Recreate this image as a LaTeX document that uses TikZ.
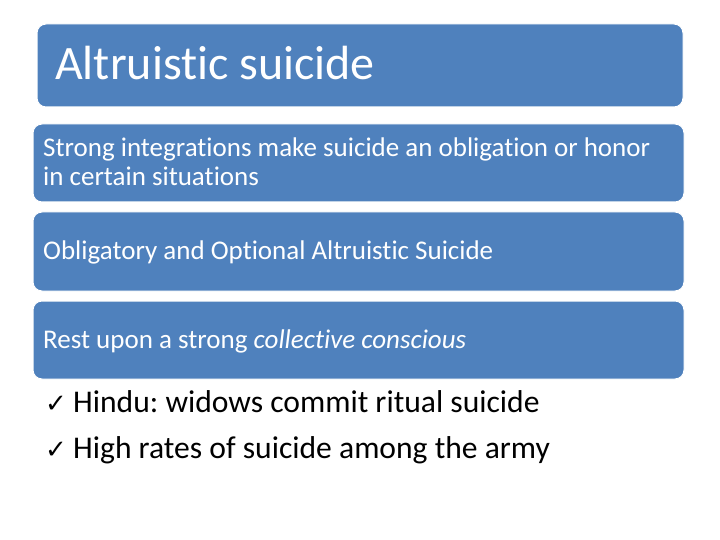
\documentclass[tikz,border=0pt]{standalone}
\usepackage{fontspec}
\setmainfont[Ligatures={NoCommon}]{Carlito}
\newfontfamily\symf{DejaVu Sans}
\definecolor{boxblue}{HTML}{4F81BD}
\frenchspacing
\begin{document}
\begin{tikzpicture}[x=1pt,y=-1pt,
  bbox/.style={fill=boxblue,draw=white,line width=1pt,rounded corners=9pt},
  wtext/.style={anchor=base west,inner sep=0,text=white,font=\fontsize{27}{32}\selectfont},
  btext/.style={anchor=base west,inner sep=0,font=\fontsize{31.6}{38}\selectfont}]
\useasboundingbox (0,0) rectangle (720,540);
\fill[white] (0,0) rectangle (720,540);
\draw[bbox] (37,24) rectangle (683,107);
\node[wtext,font=\fontsize{48}{56}\selectfont] (t) at (55,80) {Altruistic suicide};
\draw[bbox] (33,124) rectangle (684,202);
\node[wtext] (a1) at (43,157) {Strong integrations make suicide an obligation or honor};
\node[wtext] (a2) at (43,186) {in certain situations};
\draw[bbox] (33,212) rectangle (684,291);
\node[wtext] (b) at (43,259) {Obligatory and Optional Altruistic Suicide};
\draw[bbox] (33,301) rectangle (684,379);
\node[wtext] (c) at (43,348) {Rest upon a strong \textit{collective conscious}};
\node[btext] (k1) at (45,412) {{\symf\bfseries\fontsize{26}{30}\selectfont ✓}};
\node[btext] (d1) at (73,412) {Hindu: widows commit ritual suicide};
\node[btext] (k2) at (45,458) {{\symf\bfseries\fontsize{26}{30}\selectfont ✓}};
\node[btext] (d2) at (73,458) {High rates of suicide among the army};
\end{tikzpicture}
\end{document}
